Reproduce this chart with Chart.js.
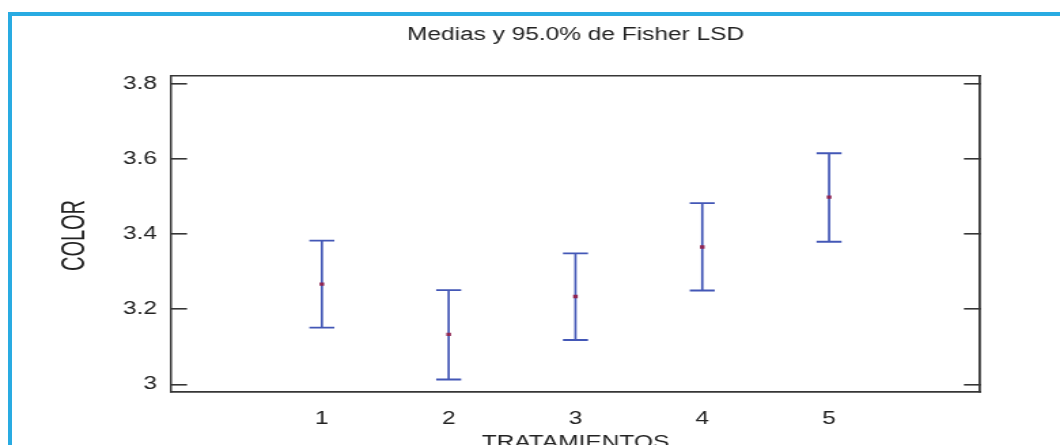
<!DOCTYPE html>
<html>
<head>
<meta charset="utf-8">
<script src="https://cdn.jsdelivr.net/npm/chart.js@4.4.1/dist/chart.umd.min.js"></script>
<style>
  html, body { margin: 0; padding: 0; background: #fff; overflow: hidden; width: 1060px; height: 445px; }
  #frame { position: absolute; left: 8px; top: 12px; width: 1100px; height: 500px;
           border-left: 4px solid #29abe2; border-top: 4px solid #29abe2; box-sizing: border-box; }
  /* the chart is laid out on a narrower canvas and widened to the window */
  #chart { position: absolute; left: 0; top: 0; transform: scaleX(1.358974); transform-origin: 0 0; }
</style>
</head>
<body>
<div id="frame"></div>
<canvas id="chart" width="780" height="470"></canvas>
<script>
// Treatment groups and their means with 95% Fisher LSD intervals
const categories = [1, 2, 3, 4, 5];
const means = [3.267, 3.133, 3.234, 3.366, 3.499];
const lower = [3.151, 3.013, 3.118, 3.250, 3.380];
const upper = [3.383, 3.251, 3.349, 3.483, 3.616];
const yTicks = [3.0, 3.2, 3.4, 3.6, 3.8];
const xTicks = [1, 2, 3, 4, 5];

const FONT = "'Liberation Sans', Arial, sans-serif";
const BAR_COLOR = '#4357b6';
const MEAN_COLOR = '#8e2452';
const TEXT_COLOR = '#222222';
const AXIS_COLOR = '#363636';

const Y_MIN = 2.9795, Y_MAX = 3.822;
const X_MIN = -0.19, X_MAX = 6.19;

// vertical interval stems, broken between groups
const stems = [];
categories.forEach((c, i) => {
  stems.push({ x: c, y: lower[i] }, { x: c, y: upper[i] }, { x: c, y: null });
});
// interval end caps
const caps = [];
categories.forEach((c, i) => {
  caps.push({ x: c, y: lower[i] }, { x: c, y: upper[i] });
});
const meanPts = categories.map((c, i) => ({ x: c, y: means[i] }));

const setTicks = values => scale => { scale.ticks = values.map(v => ({ value: v })); };

// rotated y-axis caption
const yCaption = {
  id: 'yCaption',
  afterDraw(chart) {
    const ctx = chart.ctx;
    ctx.save();
    ctx.translate(55.4, 235.5);
    ctx.rotate(-Math.PI / 2);
    ctx.scale(1, 1.18);
    ctx.font = '20px ' + FONT;
    ctx.fillStyle = TEXT_COLOR;
    ctx.textAlign = 'center';
    ctx.textBaseline = 'middle';
    ctx.fillText('COLOR', 0, 0);
    ctx.restore();
  }
};

new Chart(document.getElementById('chart'), {
  type: 'scatter',
  data: {
    datasets: [
      {
        type: 'line',
        data: stems,
        showLine: true,
        spanGaps: false,
        borderColor: BAR_COLOR,
        borderWidth: 1.7,
        pointRadius: 0,
        order: 3
      },
      {
        data: caps,
        pointStyle: 'line',
        radius: 9.2,
        borderColor: BAR_COLOR,
        borderWidth: 1.9,
        order: 2
      },
      {
        data: meanPts,
        pointStyle: 'rect',
        radius: 2.4,
        backgroundColor: MEAN_COLOR,
        borderColor: MEAN_COLOR,
        borderWidth: 0,
        order: 1
      }
    ]
  },
  options: {
    responsive: false,
    animation: false,
    events: [],
    layout: { padding: 0 },
    plugins: {
      legend: { display: false },
      tooltip: { enabled: false },
      title: {
        display: true,
        fullSize: false,
        text: 'Medias y 95.0% de Fisher LSD',
        color: TEXT_COLOR,
        font: { family: FONT, size: 18, weight: 'normal' },
        padding: { top: 24.6, bottom: 29.8 }
      }
    },
    scales: {
      x: {
        type: 'linear',
        position: 'bottom',
        min: X_MIN,
        max: X_MAX,
        afterBuildTicks: setTicks(xTicks),
        afterFit: s => { s.height = 78; },
        grid: { display: false },
        border: { display: true, color: AXIS_COLOR, width: 1.8 },
        ticks: {
          color: TEXT_COLOR,
          font: { family: FONT, size: 18 },
          padding: 8.2,
          maxRotation: 0,
          autoSkip: false,
          callback: v => String(v)
        },
        title: {
          display: true,
          text: 'TRATAMIENTOS',
          color: TEXT_COLOR,
          font: { family: FONT, size: 18 },
          padding: { top: 0, bottom: 16.5 }
        }
      },
      xTop: {
        type: 'linear',
        position: 'top',
        min: X_MIN,
        max: X_MAX,
        afterFit: s => { s.height = 0; },
        grid: { display: false },
        border: { display: true, color: AXIS_COLOR, width: 1.6 },
        ticks: { display: false }
      },
      y: {
        position: 'left',
        min: Y_MIN,
        max: Y_MAX,
        afterBuildTicks: setTicks(yTicks),
        afterFit: s => { s.width = 125.8; },
        grid: { display: true, drawOnChartArea: false, drawTicks: true, tickLength: -11.8,
                color: AXIS_COLOR, lineWidth: 1.6 },
        border: { display: true, color: AXIS_COLOR, width: 1.5 },
        ticks: {
          color: TEXT_COLOR,
          font: { family: FONT, size: 18 },
          padding: 22.1,
          autoSkip: false,
          callback: v => String(v)
        }
      },
      yRight: {
        position: 'right',
        min: Y_MIN,
        max: Y_MAX,
        afterBuildTicks: setTicks(yTicks),
        afterFit: s => { s.width = 58.9; },
        grid: { display: true, drawOnChartArea: false, drawTicks: true, tickLength: -11.8,
                color: AXIS_COLOR, lineWidth: 1.6 },
        border: { display: true, color: AXIS_COLOR, width: 1.8 },
        ticks: { display: false }
      }
    }
  },
  plugins: [yCaption]
});
</script>
</body>
</html>
